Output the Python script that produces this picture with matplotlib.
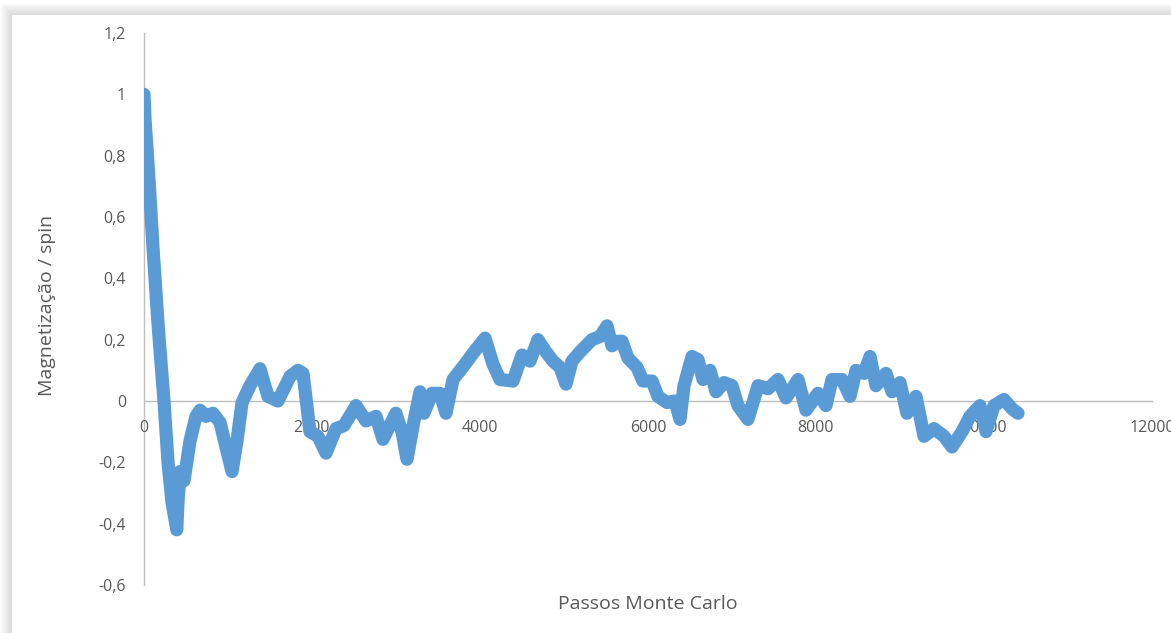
import matplotlib
matplotlib.use('Agg')
import matplotlib.pyplot as plt
from matplotlib.patches import Rectangle
from matplotlib.ticker import FuncFormatter

# Magnetization per spin vs Monte Carlo steps
steps = [0, 12, 60, 107, 170, 238, 286, 333, 390, 405, 429, 476, 548, 619, 667, 738,
         821, 905, 976, 1048, 1107, 1167, 1262, 1381, 1476, 1595, 1738, 1833, 1893,
         1976, 2071, 2167, 2286, 2381, 2524, 2643, 2762, 2845, 2998, 3071, 3131, 3214,
         3286, 3333, 3429, 3524, 3595, 3679, 3821, 3929, 4060, 4155, 4238, 4393, 4500,
         4595, 4690, 4786, 4869, 4952, 5024, 5095, 5190, 5333, 5429, 5512, 5571, 5643,
         5690, 5762, 5869, 5940, 6048, 6119, 6226, 6321, 6381, 6429, 6524, 6595, 6655,
         6738, 6810, 6905, 7000, 7071, 7190, 7310, 7429, 7548, 7643, 7786, 7881, 8024,
         8119, 8190, 8310, 8405, 8476, 8571, 8643, 8714, 8833, 8905, 9000, 9083, 9190,
         9286, 9405, 9524, 9619, 9738, 9833, 9952, 10024, 10119, 10238, 10333, 10405]
mag = [1.0, 0.92, 0.72, 0.5, 0.24, 0.0, -0.2, -0.33, -0.42, -0.33, -0.23, -0.26,
       -0.13, -0.05, -0.03, -0.05, -0.04, -0.07, -0.15, -0.23, -0.13, -0.005, 0.05,
       0.105, 0.015, 0.0, 0.08, 0.1, 0.09, -0.1, -0.115, -0.17, -0.09, -0.08, -0.015,
       -0.065, -0.05, -0.125, -0.04, -0.1, -0.19, -0.065, 0.03, -0.04, 0.025, 0.025,
       -0.04, 0.07, 0.12, 0.16, 0.205, 0.12, 0.07, 0.065, 0.15, 0.13, 0.2, 0.16, 0.13,
       0.11, 0.055, 0.13, 0.16, 0.2, 0.21, 0.245, 0.18, 0.195, 0.195, 0.14, 0.11, 0.065,
       0.065, 0.015, -0.005, 0.0, -0.06, 0.05, 0.145, 0.135, 0.07, 0.1, 0.03, 0.06, 0.05,
       -0.015, -0.06, 0.05, 0.04, 0.07, 0.01, 0.07, -0.03, 0.025, -0.015, 0.07, 0.07,
       0.015, 0.1, 0.09, 0.145, 0.05, 0.09, 0.03, 0.06, -0.04, 0.015, -0.115, -0.09,
       -0.115, -0.15, -0.1, -0.05, -0.015, -0.1, -0.015, 0.005, -0.025, -0.04]

y_ticks = [-0.6, -0.4, -0.2, 0, 0.2, 0.4, 0.6, 0.8, 1.0, 1.2]
x_ticks = [0, 2000, 4000, 6000, 8000, 10000, 12000]

W, H = 1171, 633
plt.rcParams['font.family'] = ['Open Sans', 'DejaVu Sans']
text_color = '#595959'
axis_color = '#bfbfbf'

fig = plt.figure(figsize=(W / 100, H / 100), dpi=100)
fig.patch.set_facecolor('white')

# soft shadow around the chart area (Excel style frame)
for d in range(1, 13):
    fig.patches.append(Rectangle(((12 - d) / W, 0), 1.2, 1 - (15 - d) / H,
                                 transform=fig.transFigure, facecolor='#808080',
                                 alpha=0.025, edgecolor='none', zorder=-10))
fig.patches.append(Rectangle((12 / W, 0), 1.2, 1 - 15 / H, transform=fig.transFigure,
                             facecolor='white', edgecolor='none', zorder=-9))

ax = fig.add_axes([144 / W, 1 - 585 / H, 1008 / W, 552 / H])
ax.set_facecolor('none')

ax.plot(steps, mag, color='#5b9bd5', linewidth=9.5, solid_joinstyle='round',
        solid_capstyle='round', zorder=3)

ax.set_xlim(0, 12000)
ax.set_ylim(-0.6, 1.2)
ax.set_xticks(x_ticks)
ax.set_yticks(y_ticks)

fmt = FuncFormatter(lambda v, p: ('%g' % round(v, 2)).replace('.', ','))
ax.xaxis.set_major_formatter(fmt)
ax.yaxis.set_major_formatter(fmt)

ax.spines['top'].set_visible(False)
ax.spines['right'].set_visible(False)
ax.spines['left'].set_position(('data', 0))
ax.spines['bottom'].set_position(('data', 0))
for s in ['left', 'bottom']:
    ax.spines[s].set_color(axis_color)
    ax.spines[s].set_linewidth(1)
    ax.spines[s].set_zorder(1)

ax.tick_params(axis='y', length=0, pad=13, labelsize=11.5, labelcolor=text_color)
ax.tick_params(axis='x', length=0, pad=14, labelsize=11.5, labelcolor=text_color)
for lab in ax.get_xticklabels():
    lab.set_zorder(2)

fig.text(47 / W, 1 - 305 / H, 'Magnetização / spin', rotation=90, ha='center',
         va='center', fontsize=14, color=text_color)
fig.text(648 / W, 1 - 604 / H, 'Passos Monte Carlo', ha='center', va='center',
         fontsize=14, color=text_color)

plt.savefig('out.png', dpi=100)
plt.close()
